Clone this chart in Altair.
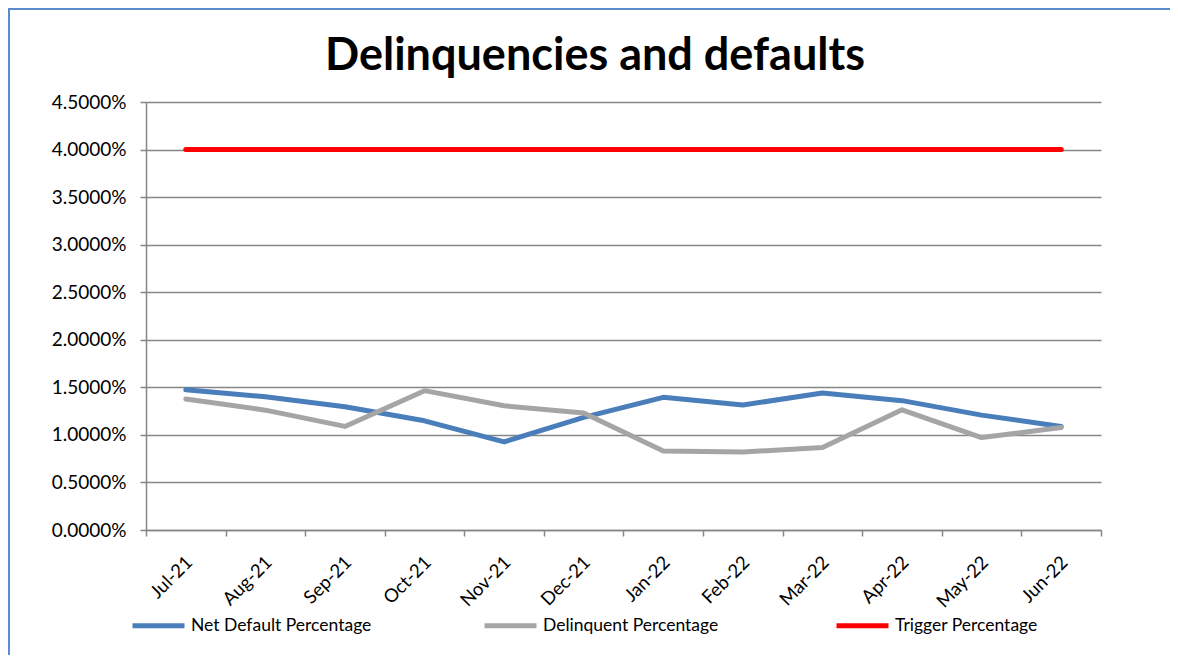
import altair as alt
import pandas as pd

months = ["Jul-21", "Aug-21", "Sep-21", "Oct-21", "Nov-21", "Dec-21",
          "Jan-22", "Feb-22", "Mar-22", "Apr-22", "May-22", "Jun-22"]
net_default = [0.01475, 0.0140, 0.01296, 0.01148, 0.00926, 0.01184,
               0.01395, 0.01314, 0.0144, 0.0136, 0.01208, 0.01089]
delinquent = [0.01377, 0.0126, 0.01089, 0.01465, 0.01306, 0.01229,
              0.00831, 0.0082, 0.00867, 0.01264, 0.00972, 0.01078]
trigger = [0.04] * 12
series_names = ["Net Default Percentage", "Delinquent Percentage", "Trigger Percentage"]
series_colors = ["#4a7ebb", "#a5a5a5", "#ff0000"]
title_text = "Delinquencies and defaults"

rows = []
for name, vals in zip(series_names, [net_default, delinquent, trigger]):
    for m, v in zip(months, vals):
        rows.append({"Month": m, "Value": v, "Series": name})
df = pd.DataFrame(rows)

FONT = "Lato"
W, H = 955, 428
PAD_L, PAD_T = 138, 94
PAD_R = 1162 - PAD_L - W
PAD_B = 647 - PAD_T - H

lines = alt.Chart(df).mark_line(strokeWidth=5, strokeCap="round", strokeJoin="round").encode(
    x=alt.X("Month:N", sort=months, bandPosition=0.5,
            scale=alt.Scale(type="band", paddingInner=0, paddingOuter=0),
            axis=alt.Axis(title=None, tickBand="extent", labelAngle=-45, labelAlign="right",
                          labelBaseline="middle", labelOffset=3, labelPadding=23,
                          labelFont=FONT, labelFontSize=18.5,
                          tickSize=6, grid=False)),
    y=alt.Y("Value:Q", scale=alt.Scale(domain=[0, 0.045], nice=False),
            axis=alt.Axis(title=None, format=".4%", values=[i * 0.005 for i in range(10)],
                          labelFont=FONT, labelFontSize=19,
                          tickSize=6, labelPadding=14)),
    color=alt.Color("Series:N", sort=series_names,
                    scale=alt.Scale(domain=series_names, range=series_colors),
                    legend=alt.Legend(title=None, orient="none", direction="horizontal",
                                      legendX=-16, legendY=H + 67,
                                      columns=3, gridAlign="all", columnPadding=102,
                                      symbolType="stroke", symbolSize=2700,
                                      symbolStrokeWidth=5, labelFontSize=17.5,
                                      labelLimit=400,
                                      labelFont=FONT, labelColor="#000000", labelOffset=4)),
)

title = alt.Chart(pd.DataFrame({"t": [title_text]})).mark_text(
    font=FONT, fontSize=45, fontWeight="bold", color="#000000",
    align="center", baseline="alphabetic").encode(
    text="t:N", x=alt.value(449), y=alt.value(-32))

border_left = alt.Chart(df).mark_rule(color="#5a8ad0", strokeWidth=2).encode(
    x=alt.value(-PAD_L + 1), y=alt.value(-PAD_T), y2=alt.value(H + PAD_B))
border_top = alt.Chart(df).mark_rule(color="#5a8ad0", strokeWidth=2).encode(
    x=alt.value(-PAD_L), x2=alt.value(W + PAD_R), y=alt.value(-PAD_T + 1))

chart = alt.layer(lines, title, border_left, border_top).properties(
    width=W, height=H,
    padding={"left": PAD_L, "top": PAD_T, "right": PAD_R, "bottom": PAD_B},
    autosize=alt.AutoSizeParams(type="none"),
).configure_view(stroke=None).configure_axis(
    domainColor="#868686", tickColor="#868686", gridColor="#868686",
    domainWidth=1.5, tickWidth=1.5, gridWidth=1.5,
    labelColor="#000000",
).configure_axisY(domain=True, grid=True)

chart.save("out.html", embed_options={"renderer": "svg", "actions": False})
